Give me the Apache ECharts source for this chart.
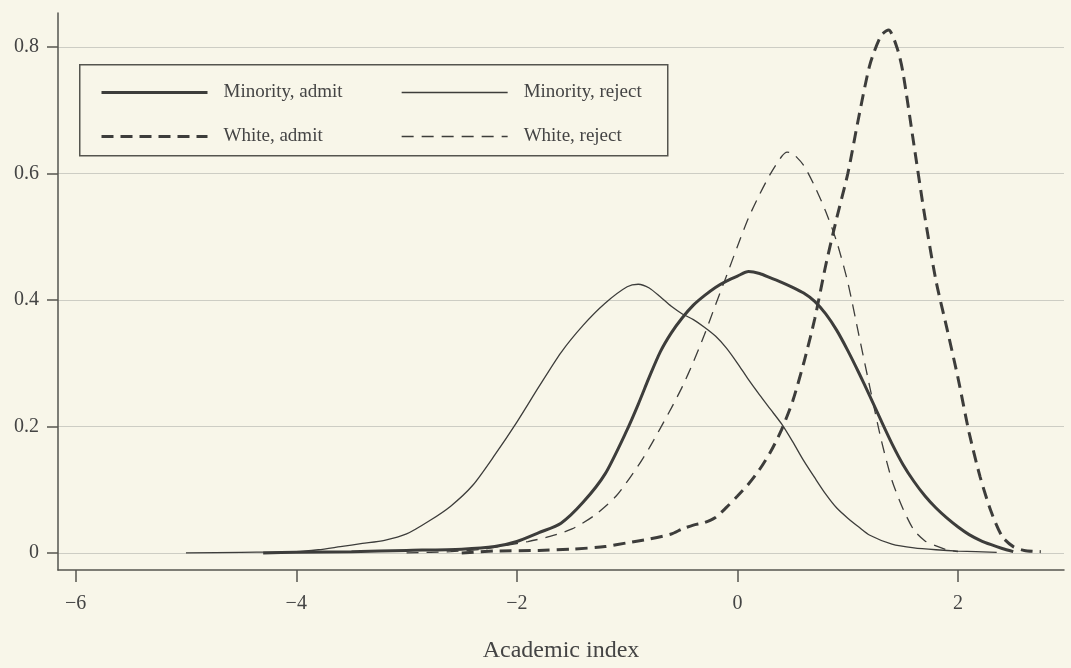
<!DOCTYPE html>
<html>
<head>
<meta charset="utf-8">
<script src="https://cdn.jsdelivr.net/npm/echarts@6/dist/echarts.min.js"></script>
<style>
  html, body { margin: 0; padding: 0; background: #f8f6e9; }
  #chart { width: 1071px; height: 668px; }
</style>
</head>
<body>
<div id="chart"></div>
<script>
// density curves: [academic index, density]
const minorityAdmit = [
  [-4.3, 0], [-4.0, 0.001], [-3.5, 0.002], [-3.0, 0.004], [-2.5, 0.006], [-2.2, 0.01],
  [-2.0, 0.018], [-1.8, 0.032], [-1.6, 0.047], [-1.4, 0.08], [-1.2, 0.125], [-1.0, 0.195],
  [-0.9, 0.235], [-0.8, 0.278], [-0.7, 0.318], [-0.6, 0.348], [-0.5, 0.372], [-0.4, 0.392],
  [-0.3, 0.407], [-0.2, 0.42], [-0.1, 0.43], [0.0, 0.438], [0.1, 0.445], [0.2, 0.442],
  [0.3, 0.435], [0.4, 0.428], [0.5, 0.42], [0.6, 0.411], [0.7, 0.398], [0.8, 0.378],
  [0.9, 0.352], [1.0, 0.32], [1.1, 0.285], [1.2, 0.248], [1.3, 0.21], [1.4, 0.173],
  [1.5, 0.14], [1.6, 0.113], [1.7, 0.09], [1.8, 0.071], [1.9, 0.055], [2.0, 0.041],
  [2.1, 0.029], [2.2, 0.02], [2.3, 0.013], [2.4, 0.007], [2.5, 0.002]
];
const minorityReject = [
  [-5.0, 0], [-4.5, 0.001], [-4.0, 0.002], [-3.8, 0.005], [-3.6, 0.01], [-3.4, 0.015],
  [-3.2, 0.02], [-3.0, 0.03], [-2.8, 0.05], [-2.6, 0.074], [-2.4, 0.107], [-2.2, 0.155],
  [-2.0, 0.207], [-1.8, 0.263], [-1.6, 0.317], [-1.4, 0.36], [-1.2, 0.395], [-1.0, 0.421],
  [-0.9, 0.425], [-0.8, 0.419], [-0.7, 0.405], [-0.6, 0.39], [-0.5, 0.378], [-0.4, 0.369],
  [-0.3, 0.357], [-0.2, 0.343], [-0.1, 0.324], [0.0, 0.3], [0.1, 0.274], [0.2, 0.25],
  [0.3, 0.227], [0.4, 0.204], [0.5, 0.176], [0.6, 0.146], [0.7, 0.119], [0.8, 0.093],
  [0.9, 0.071], [1.0, 0.055], [1.1, 0.041], [1.2, 0.028], [1.4, 0.014], [1.6, 0.008],
  [1.8, 0.005], [2.0, 0.003], [2.35, 0.001]
];
const whiteAdmit = [
  [-2.5, 0], [-2.2, 0.003], [-1.8, 0.004], [-1.5, 0.006], [-1.2, 0.01], [-1.0, 0.016],
  [-0.8, 0.022], [-0.6, 0.03], [-0.5, 0.038], [-0.4, 0.044], [-0.3, 0.048], [-0.2, 0.056],
  [-0.1, 0.072], [0.0, 0.09], [0.1, 0.109], [0.2, 0.132], [0.3, 0.16], [0.4, 0.195],
  [0.5, 0.24], [0.6, 0.3], [0.7, 0.37], [0.8, 0.455], [0.9, 0.53], [1.0, 0.6],
  [1.1, 0.69], [1.2, 0.772], [1.3, 0.818], [1.37, 0.827], [1.45, 0.797], [1.5, 0.76],
  [1.6, 0.645], [1.7, 0.53], [1.8, 0.43], [1.9, 0.354], [2.0, 0.276], [2.1, 0.19],
  [2.2, 0.12], [2.3, 0.065], [2.4, 0.026], [2.5, 0.01], [2.6, 0.004], [2.75, 0.002]
];
const whiteReject = [
  [-3.0, 0], [-2.6, 0.002], [-2.3, 0.006], [-2.1, 0.012], [-1.9, 0.018], [-1.7, 0.026],
  [-1.5, 0.038], [-1.3, 0.059], [-1.1, 0.09], [-0.9, 0.138], [-0.8, 0.166], [-0.7, 0.197],
  [-0.6, 0.229], [-0.5, 0.263], [-0.4, 0.302], [-0.3, 0.345], [-0.2, 0.392], [-0.1, 0.438],
  [0.0, 0.485], [0.1, 0.53], [0.2, 0.567], [0.3, 0.6], [0.4, 0.627], [0.45, 0.634],
  [0.5, 0.632], [0.6, 0.613], [0.7, 0.58], [0.8, 0.54], [0.9, 0.492], [1.0, 0.428],
  [1.1, 0.345], [1.2, 0.262], [1.3, 0.181], [1.4, 0.115], [1.5, 0.07], [1.6, 0.036],
  [1.7, 0.019], [1.8, 0.011], [1.9, 0.005], [2.0, 0.002]
];

const xTicks = [-6, -4, -2, 0, 2];
const yTicks = [0, 0.2, 0.4, 0.6, 0.8];

const FONT = "'Liberation Serif', 'DejaVu Serif', serif";
const INK = "#3d3d3b";
const AXIS = "#55554f";
const GRID = "#cdcdc4";
const BG = "#f8f6e9";

function curve(name, data, width, dash) {
  return {
    name,
    type: "line",
    data,
    smooth: 0.25,
    symbol: "none",
    silent: true,
    lineStyle: { color: INK, width, type: dash || "solid", cap: "butt" },
    itemStyle: { color: INK },
    z: 3,
  };
}

function legendBlock(left, items) {
  return {
    orient: "vertical",
    left,
    top: 83,
    padding: 0,
    itemWidth: 106,
    itemHeight: 14,
    itemGap: 25,
    selectedMode: false,
    itemStyle: { opacity: 0 },
    textStyle: { color: "#444", fontFamily: FONT, fontSize: 19, padding: [0, 0, 0, 11] },
    data: items,
  };
}

const chart = echarts.init(document.getElementById("chart"), null, { renderer: "canvas" });

chart.setOption({
  backgroundColor: BG,
  animation: false,
  textStyle: { fontFamily: FONT },
  grid: { left: 58, right: 7, top: 13, bottom: 96 },
  xAxis: {
    type: "value",
    min: -6.16,
    max: 2.96,
    name: "Academic index",
    nameLocation: "middle",
    nameGap: 69,
    nameTextStyle: { color: "#444", fontFamily: FONT, fontSize: 24 },
    axisLine: { onZero: false, lineStyle: { color: AXIS, width: 1.5 } },
    axisTick: { customValues: xTicks, length: 12, lineStyle: { color: AXIS, width: 1.5 } },
    axisLabel: {
      customValues: xTicks,
      margin: 24,
      color: "#444",
      fontFamily: FONT,
      fontSize: 20,
      formatter: (v) => String(v).replace("-", "\u2212"),
    },
    splitLine: { show: false },
  },
  yAxis: {
    type: "value",
    min: -0.027,
    max: 0.854,
    axisLine: { show: true, onZero: false, lineStyle: { color: AXIS, width: 1.5 } },
    axisTick: { show: true, customValues: yTicks, length: 11, lineStyle: { color: AXIS, width: 1.5 } },
    axisLabel: { customValues: yTicks, margin: 19, color: "#444", fontFamily: FONT, fontSize: 20 },
    splitLine: { show: true, lineStyle: { color: GRID, width: 1.2 } },
  },
  legend: [
    legendBlock(100, [
      { name: "Minority, admit", lineStyle: { width: 3 } },
      { name: "White, admit", lineStyle: { width: 3 } },
    ]),
    legendBlock(401, [
      { name: "Minority, reject", lineStyle: { width: 1.3 } },
      { name: "White, reject", lineStyle: { width: 1.3 } },
    ]),
  ],
  graphic: [
    {
      type: "rect",
      left: 79,
      top: 64,
      shape: { width: 588, height: 91 },
      style: { fill: BG, stroke: AXIS, lineWidth: 1.5 },
      z: 1,
      silent: true,
    },
  ],
  series: [
    curve("Minority, reject", minorityReject, 1.3),
    curve("White, reject", whiteReject, 1.3, [12, 8]),
    curve("Minority, admit", minorityAdmit, 3),
    curve("White, admit", whiteAdmit, 3, [12, 7]),
  ],
});
</script>
</body>
</html>
